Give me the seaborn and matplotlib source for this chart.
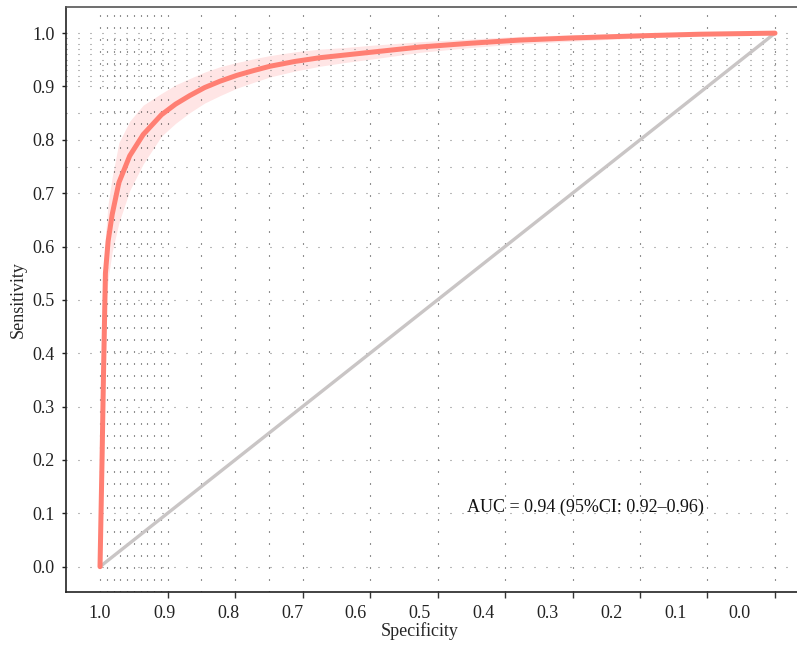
# %%
# ROC curve, specificity x sensitivity, with CI band and dotted threshold grid
import matplotlib
matplotlib.use("Agg")
import matplotlib.pyplot as plt
import seaborn as sns
import pandas as pd

# --- 1. DATA ---
specificity = [1.0, 0.997, 0.995, 0.992, 0.988, 0.982, 0.972, 0.956, 0.936, 0.909, 0.888,
               0.867, 0.845, 0.822, 0.797, 0.772, 0.748, 0.711, 0.674, 0.637, 0.600,
               0.526, 0.452, 0.378, 0.300, 0.200, 0.111, 0.0]
sensitivity = [0.0, 0.20, 0.35, 0.55, 0.61, 0.66, 0.72, 0.770, 0.810, 0.847, 0.867,
               0.883, 0.898, 0.910, 0.921, 0.930, 0.938, 0.947, 0.954, 0.959, 0.964,
               0.974, 0.981, 0.987, 0.991, 0.995, 0.998, 1.0]
ci_lower = [0.0, 0.17, 0.30, 0.48, 0.54, 0.59, 0.645, 0.705, 0.755, 0.807, 0.831,
            0.851, 0.869, 0.883, 0.897, 0.908, 0.918, 0.929, 0.938, 0.945, 0.951,
            0.964, 0.973, 0.980, 0.985, 0.991, 0.995, 1.0]
ci_upper = [0.0, 0.23, 0.40, 0.62, 0.68, 0.73, 0.795, 0.835, 0.865, 0.887, 0.903,
            0.915, 0.927, 0.937, 0.945, 0.952, 0.958, 0.965, 0.970, 0.973, 0.977,
            0.984, 0.989, 0.994, 0.997, 0.999, 1.0, 1.0]

diag_x = [1.0, 0.0]
diag_y = [0.0, 1.0]

# grid lines (thresholds)
grid_spec = [1.0, 0.99, 0.98, 0.97, 0.96, 0.95, 0.94, 0.93, 0.92, 0.91, 0.9,
             0.85, 0.8, 0.75, 0.7, 0.6, 0.5, 0.4, 0.3, 0.2, 0.1, 0.0]
grid_sens = [0.0, 0.1, 0.2, 0.3, 0.4, 0.5, 0.6, 0.7, 0.75, 0.8, 0.85,
             0.9, 0.91, 0.92, 0.93, 0.94, 0.95, 0.96, 0.97, 0.98, 0.99, 1.0]

tick_values = [1.0, 0.9, 0.8, 0.7, 0.6, 0.5, 0.4, 0.3, 0.2, 0.1, 0.0]
tick_labels = ['1.0', '0.9', '0.8', '0.7', '0.6', '0.5', '0.4', '0.3', '0.2', '0.1', '0.0']

auc_text = 'AUC = 0.94 (95%CI: 0.92\u20130.96)'

df_roc = pd.DataFrame({'Specificity': specificity, 'Sensitivity': sensitivity,
                       'lo': ci_lower, 'hi': ci_upper})
df_diag = pd.DataFrame({'Specificity': diag_x, 'Sensitivity': diag_y})

# --- 2. STYLE ---
sns.set_style("white")
plt.rcParams['font.family'] = ['Liberation Serif', 'DejaVu Serif']
plt.rcParams['font.size'] = 13

fig = plt.figure(figsize=(7.97, 6.46), dpi=100)
ax = fig.add_axes([66 / 797, 54 / 646, 731 / 797, 585 / 646])

# --- 3. GRID ---
for v in grid_spec:
    ax.axvline(v, color='#222222', lw=0.8, linestyle=(0, (0.9, 9.9)), zorder=2)
for v in grid_sens:
    ax.axhline(v, color='#777777', lw=0.8, linestyle=(0, (0.9, 9.9)), zorder=2)

# --- 4. CURVES ---
ax.fill_between(df_roc['Specificity'], df_roc['lo'], df_roc['hi'],
                color='#FFE5E5', linewidth=0, zorder=1)
sns.lineplot(data=df_diag, x='Specificity', y='Sensitivity', ax=ax, sort=False,
             color='#C9C5C5', linewidth=2.4, zorder=3)
sns.lineplot(data=df_roc, x='Specificity', y='Sensitivity', ax=ax, sort=False,
             color='#FF7F73', linewidth=3.6, zorder=4, solid_joinstyle='round')

ax.text(0.456, 0.112, auc_text, ha='left', va='center', fontsize=13, color='#111111', zorder=5)

# --- 5. AXES ---
ax.set_xlim(1.0504, -0.0326)
ax.set_ylim(-0.0475, 1.049)

# labels sit slightly compressed relative to the tick marks, as in the original
label_pos = [1 - (1 - v) * 0.948 for v in tick_values]
ax.set_xticks(label_pos)
ax.set_xticklabels(tick_labels)
ax.set_xticks(tick_values, minor=True)
ax.tick_params(axis='x', which='major', length=0, pad=9, labelsize=13, colors='#222222')
ax.tick_params(axis='x', which='minor', length=4.5, width=1, color='#333333', bottom=True)

ax.set_yticks(tick_values)
ax.set_yticklabels(tick_labels)
ax.tick_params(axis='y', which='major', length=3, width=1, pad=5, labelsize=13,
               colors='#222222', left=True)

for side in ['left', 'bottom']:
    ax.spines[side].set_color('#222222')
    ax.spines[side].set_linewidth(1.2)
ax.spines['top'].set_color('#555555')
ax.spines['top'].set_linewidth(1.2)
ax.spines['right'].set_visible(False)

ax.set_xlabel('Specificity', fontsize=13)
ax.set_ylabel('Sensitivity', fontsize=13)
ax.xaxis.label.set_va('center')
ax.xaxis.set_label_coords(0.484, -0.0667)
ax.yaxis.label.set_va('center')
ax.yaxis.set_label_coords(-0.065, 0.5)

fig.savefig('out.png', dpi=100)
